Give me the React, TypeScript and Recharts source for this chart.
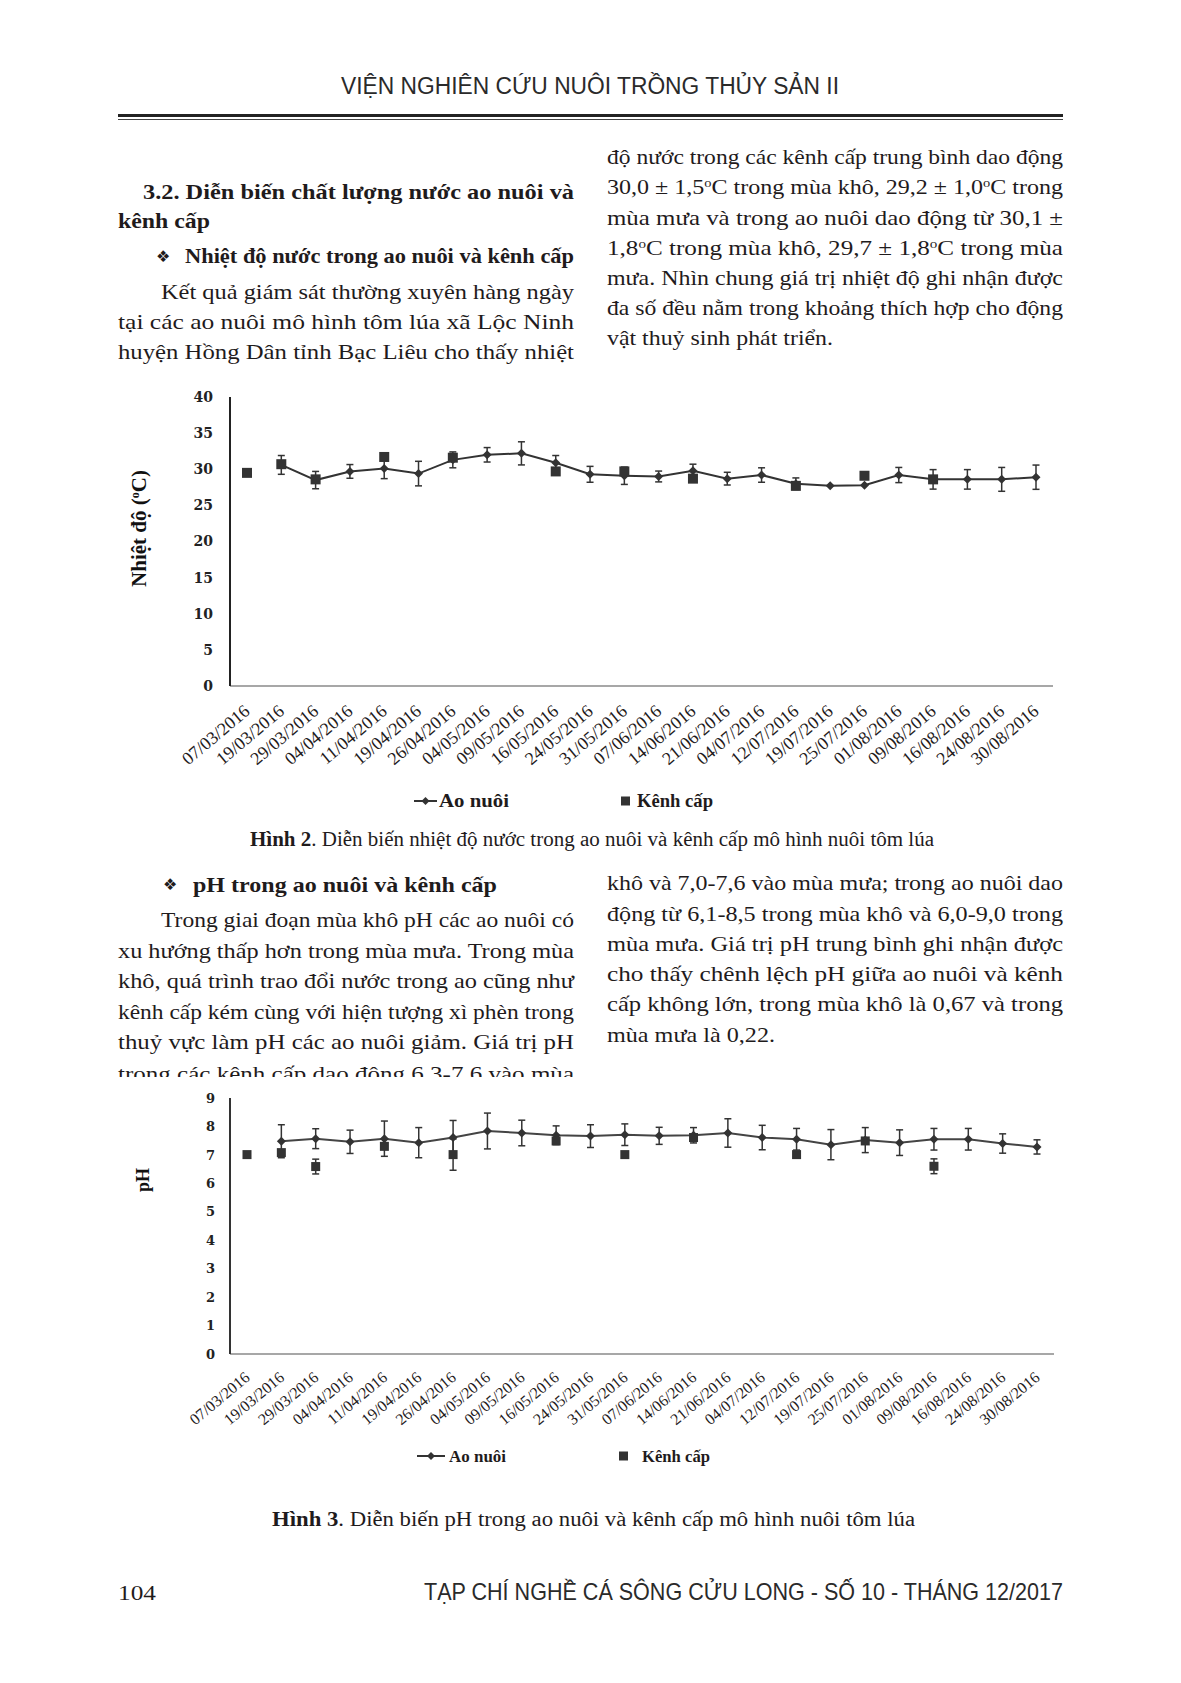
import React from "react";
import { ComposedChart, Line, XAxis, YAxis, ErrorBar } from "recharts";

// sampling dates (shared by both figures)
const dates = [
  "07/03/2016", "19/03/2016", "29/03/2016", "04/04/2016", "11/04/2016", "19/04/2016",
  "26/04/2016", "04/05/2016", "09/05/2016", "16/05/2016", "24/05/2016", "31/05/2016",
  "07/06/2016", "14/06/2016", "21/06/2016", "04/07/2016", "12/07/2016", "19/07/2016",
  "25/07/2016", "01/08/2016", "09/08/2016", "16/08/2016", "24/08/2016", "30/08/2016",
];

// Hinh 2 - nhiet do (oC)
const tempAoNuoi = [null, 30.6, 28.5, 29.7, 30.1, 29.4, 31.3, 32.0, 32.2, 30.9, 29.3, 29.1, 29.0, 29.8, 28.7, 29.2, 28.0, 27.7, 27.8, 29.2, 28.6, 28.6, 28.6, 28.9];
const tempAoNuoiSd = [null, 1.3, 1.2, 0.95, 1.4, 1.7, 1.1, 1.0, 1.6, 1.0, 1.1, 1.2, 0.75, 0.9, 0.88, 1.0, 0.8, null, null, 1.05, 1.35, 1.35, 1.65, 1.68];
const tempKenhCap = [29.5, 30.7, 28.6, null, 31.7, null, 31.6, null, null, 29.7, null, 29.7, null, 28.7, null, null, 27.7, null, 29.1, null, 28.6, null, null, null];
const tempTicks = [0, 5, 10, 15, 20, 25, 30, 35, 40];

// Hinh 3 - pH
const phAoNuoi = [null, 7.48, 7.57, 7.46, 7.57, 7.43, 7.61, 7.84, 7.77, 7.69, 7.66, 7.71, 7.67, 7.69, 7.77, 7.61, 7.55, 7.36, 7.52, 7.43, 7.55, 7.55, 7.40, 7.28];
const phAoNuoiSd = [null, 0.58, 0.35, 0.41, 0.62, 0.53, 0.6, 0.63, 0.45, 0.33, 0.4, 0.38, 0.3, 0.27, 0.5, 0.43, 0.38, 0.53, 0.44, 0.45, 0.38, 0.38, 0.34, 0.25];
const phKenhCap = [7.01, 7.08, 6.59, null, 7.30, null, 7.01, null, null, 7.49, null, 7.01, null, 7.61, null, null, 7.01, null, 7.49, null, 6.60, null, null, null];
const phKenhCapSd = [null, null, 0.26, null, null, null, 0.55, null, null, null, null, null, null, null, null, null, null, null, null, null, 0.26, null, null, null];
const phTicks = [0, 1, 2, 3, 4, 5, 6, 7, 8, 9];

const tempData = dates.map((d, i) => ({ date: d, ao: tempAoNuoi[i], aoSd: tempAoNuoiSd[i], kenh: tempKenhCap[i] }));
const phData = dates.map((d, i) => ({ date: d, ao: phAoNuoi[i], aoSd: phAoNuoiSd[i], kenh: phKenhCap[i], kenhSd: phKenhCapSd[i] }));

const SERIF = "'Liberation Serif', 'Times New Roman', serif";
const SANS = "'Liberation Sans', Arial, sans-serif";
const INK = "#1f1b1c";
const MARK = "#333333";
const BODY = 22;

// text helper: "^o" gives a superscript o
function rich(s: string) {
  const parts = s.split("^o");
  const out: any[] = [<tspan key="p0">{parts[0]}</tspan>];
  for (let i = 1; i < parts.length; i++) {
    out.push(<tspan key={"s" + i} dy={-7} fontSize="0.6em">o</tspan>);
    out.push(<tspan key={"p" + i} dy={7}>{parts[i]}</tspan>);
  }
  return out;
}

function T({ x, y, w, size = BODY, bold = false, fam = SERIF, fill = INK, children }: any) {
  return (
    <text x={x} y={y} fontSize={size} fontFamily={fam} fontWeight={bold ? 700 : 400} fill={fill}
      textLength={w} lengthAdjust={w ? "spacingAndGlyphs" : undefined}>
      {typeof children === "string" ? rich(children) : children}
    </text>
  );
}

const diamond = (cx: number, cy: number, r: number, key?: any) => (
  <polygon key={key} points={`${cx},${cy - r} ${cx + r},${cy} ${cx},${cy + r} ${cx - r},${cy}`} fill={MARK} />
);

const makeDiamondDot = (r: number) => (p: any) => {
  if (p.value == null || p.cy == null) return <g key={p.index} />;
  return diamond(p.cx, p.cy, r, p.index);
};

const makeSquareDot = (s: number) => (p: any) => {
  if (p.value == null || p.cy == null) return <g key={p.index} />;
  return <rect key={p.index} x={p.cx - s / 2} y={p.cy - s / 2} width={s} height={s} fill={MARK} />;
};

const makeDateTick = (fs: number, dx: number, dy: number) => (p: any) => {
  const ax = p.x + dx;
  const ay = p.y + dy;
  return (
    <text x={ax} y={ay} transform={`rotate(-40 ${ax} ${ay})`} textAnchor="end" fontSize={fs}
      fontFamily={SERIF} fill={INK}>
      {p.payload.value}
    </text>
  );
};

function TempChart() {
  return (
    <div style={{ position: "absolute", left: 0, top: 370 }}>
      <ComposedChart width={1100} height={470} data={tempData} margin={{ top: 27, right: 47, bottom: 0, left: 0 }}>
        <XAxis dataKey="date" interval={0} tickLine={false} height={154} padding={{ left: 17, right: 17 }}
          axisLine={{ stroke: "#8a8a8a", strokeWidth: 1.5 }} tick={makeDateTick(18, 4, 19)} />
        <YAxis type="number" domain={[0, 40]} ticks={tempTicks} interval={0} width={230}
          tickLine={false} tickMargin={11} axisLine={{ stroke: "#222", strokeWidth: 2 }}
          tick={{ fontFamily: "'DejaVu Serif', serif", fontWeight: 700, fontSize: 14, fill: "#222" }}
          label={{
            content: (lp: any) => {
              const vb = lp.viewBox;
              const lx = vb.x + 146;
              const ly = vb.y + vb.height / 2 - 13;
              return (
                <text x={lx} y={ly} transform={`rotate(-90 ${lx} ${ly})`} textAnchor="middle"
                  fontFamily={SERIF} fontWeight={700} fontSize={21} fill="#111">
                  Nhiệt độ (<tspan dy={-7} fontSize={12}>o</tspan><tspan dy={7}>C)</tspan>
                </text>
              );
            },
          }} />
        <Line dataKey="ao" stroke={MARK} strokeWidth={2} dot={makeDiamondDot(4.5)} activeDot={false}
          isAnimationActive={false} connectNulls={false}>
          <ErrorBar dataKey="aoSd" direction="y" width={3.5} stroke="#333" strokeWidth={1.5} />
        </Line>
        <Line dataKey="kenh" stroke="none" dot={makeSquareDot(10)} activeDot={false} isAnimationActive={false} />
      </ComposedChart>
    </div>
  );
}

function PhChart() {
  return (
    <div style={{ position: "absolute", left: 0, top: 1070 }}>
      <ComposedChart width={1100} height={420} data={phData} margin={{ top: 28, right: 46, bottom: 0, left: 0 }}>
        <XAxis dataKey="date" interval={0} tickLine={false} height={136} padding={{ left: 17, right: 17 }}
          axisLine={{ stroke: "#8a8a8a", strokeWidth: 1.5 }} tick={makeDateTick(16, 4, 17)} />
        <YAxis type="number" domain={[0, 9]} ticks={phTicks} interval={0} width={230}
          tickLine={false} tickMargin={9} axisLine={{ stroke: "#333", strokeWidth: 2 }}
          tick={{ fontFamily: "'DejaVu Serif', serif", fontWeight: 700, fontSize: 13, fill: "#222" }}
          label={{
            content: (lp: any) => {
              const vb = lp.viewBox;
              const lx = vb.x + 149;
              const ly = vb.y + vb.height / 2 - 46;
              return (
                <text x={lx} y={ly} transform={`rotate(-90 ${lx} ${ly})`} textAnchor="middle"
                  fontFamily={SERIF} fontWeight={700} fontSize={18} fill="#111">
                  pH
                </text>
              );
            },
          }} />
        <Line dataKey="ao" stroke="#444" strokeWidth={2} dot={makeDiamondDot(4.5)} activeDot={false}
          isAnimationActive={false} connectNulls={false}>
          <ErrorBar dataKey="aoSd" direction="y" width={3.5} stroke="#333" strokeWidth={1.5} />
        </Line>
        <Line dataKey="kenh" stroke="none" dot={makeSquareDot(9)} activeDot={false} isAnimationActive={false}>
          <ErrorBar dataKey="kenhSd" direction="y" width={3.5} stroke="#333" strokeWidth={1.5} />
        </Line>
      </ComposedChart>
    </div>
  );
}

function Legend({ y, lineX, lineW, textX, textW, sqX, kTextX, kTextW, fs, sq }: any) {
  return (
    <g>
      <line x1={lineX} x2={lineX + lineW} y1={y} y2={y} stroke={MARK} strokeWidth={2} />
      {diamond(lineX + lineW / 2, y, 4)}
      <T x={textX} y={y + 6} w={textW} size={fs} bold>Ao nuôi</T>
      <rect x={sqX} y={y - sq / 2} width={sq} height={sq} fill={MARK} />
      <T x={kTextX} y={y + 6} w={kTextW} size={fs} bold>Kênh cấp</T>
    </g>
  );
}

const COLW = 456;

export default function App() {
  return (
    <div style={{ position: "relative", width: 1181, height: 1683, background: "#fff", overflow: "hidden" }}>
      <style>{"body{margin:0}"}</style>
      <svg width={1181} height={1683} style={{ position: "absolute", left: 0, top: 0 }}>
        {/* header */}
        <T x={341} y={94} w={498} size={23} fam={SANS} fill="#2a2a2a">VIỆN NGHIÊN CỨU NUÔI TRỒNG THỦY SẢN II</T>
        <rect x={118} y={114} width={945} height={3} fill="#222" />
        <rect x={118} y={119} width={945} height={1} fill="#444" />

        {/* left column, section 3.2 */}
        <T x={143} y={199} w={431} bold>3.2. Diễn biến chất lượng nước ao nuôi và</T>
        <T x={118} y={228} w={92} bold>kênh cấp</T>
        <T x={156} y={262} size={16} fam="'DejaVu Sans', sans-serif">❖</T>
        <T x={185} y={263} w={389} bold>Nhiệt độ nước trong ao nuôi và kênh cấp</T>
        <T x={161} y={299} w={413}>Kết quả giám sát thường xuyên hàng ngày</T>
        <T x={118} y={329} w={COLW}>tại các ao nuôi mô hình tôm lúa xã Lộc Ninh</T>
        <T x={118} y={359} w={COLW}>huyện Hồng Dân tỉnh Bạc Liêu cho thấy nhiệt</T>

        {/* right column */}
        <T x={607} y={164} w={COLW}>độ nước trong các kênh cấp trung bình dao động</T>
        <T x={607} y={194} w={COLW}>30,0 ± 1,5^oC trong mùa khô, 29,2 ± 1,0^oC trong</T>
        <T x={607} y={225} w={COLW}>mùa mưa và trong ao nuôi dao động từ 30,1 ±</T>
        <T x={607} y={255} w={COLW}>1,8^oC trong mùa khô, 29,7 ± 1,8^oC trong mùa</T>
        <T x={607} y={285} w={COLW}>mưa. Nhìn chung giá trị nhiệt độ ghi nhận được</T>
        <T x={607} y={315} w={COLW}>đa số đều nằm trong khoảng thích hợp cho động</T>
        <T x={607} y={345} w={226}>vật thuỷ sinh phát triển.</T>

        <Legend y={801} lineX={414} lineW={23} textX={439} textW={70} sqX={621} kTextX={637} kTextW={76} fs={18} sq={9} />
        <T x={250} y={846} w={684} size={20}>
          <tspan fontWeight={700}>Hình 2</tspan>. Diễn biến nhiệt độ nước trong ao nuôi và kênh cấp mô hình nuôi tôm lúa
        </T>

        {/* section pH */}
        <T x={163} y={890} size={16} fam="'DejaVu Sans', sans-serif">❖</T>
        <T x={193} y={892} w={304} bold>pH trong ao nuôi và kênh cấp</T>
        <T x={161} y={927} w={413}>Trong giai đoạn mùa khô pH các ao nuôi có</T>
        <T x={118} y={958} w={COLW}>xu hướng thấp hơn trong mùa mưa. Trong mùa</T>
        <T x={118} y={988} w={COLW}>khô, quá trình trao đổi nước trong ao cũng như</T>
        <T x={118} y={1019} w={COLW}>kênh cấp kém cùng với hiện tượng xì phèn trong</T>
        <T x={118} y={1049} w={COLW}>thuỷ vực làm pH các ao nuôi giảm. Giá trị pH</T>
        <T x={118} y={1081} w={COLW}>trong các kênh cấp dao động 6,3-7,6 vào mùa</T>
        <rect x={0} y={1077} width={1181} height={20} fill="#fff" />

        <T x={607} y={890} w={COLW}>khô và 7,0-7,6 vào mùa mưa; trong ao nuôi dao</T>
        <T x={607} y={921} w={COLW}>động từ 6,1-8,5 trong mùa khô và 6,0-9,0 trong</T>
        <T x={607} y={951} w={COLW}>mùa mưa. Giá trị pH trung bình ghi nhận được</T>
        <T x={607} y={981} w={COLW}>cho thấy chênh lệch pH giữa ao nuôi và kênh</T>
        <T x={607} y={1011} w={COLW}>cấp không lớn, trong mùa khô là 0,67 và trong</T>
        <T x={607} y={1042} w={168}>mùa mưa là 0,22.</T>

        <Legend y={1456} lineX={417} lineW={28} textX={449} textW={57} sqX={619} kTextX={642} kTextW={68} fs={16} sq={9} />
        <T x={272} y={1526} w={643} size={20}>
          <tspan fontWeight={700}>Hình 3</tspan>. Diễn biến pH trong ao nuôi và kênh cấp mô hình nuôi tôm lúa
        </T>

        {/* footer */}
        <T x={118} y={1600} w={38} size={22}>104</T>
        <T x={424} y={1600} w={639} size={24} fam={SANS} fill="#2a2a2a">TẠP CHÍ NGHỀ CÁ SÔNG CỬU LONG - SỐ 10 - THÁNG 12/2017</T>
      </svg>
      <TempChart />
      <PhChart />
    </div>
  );
}
